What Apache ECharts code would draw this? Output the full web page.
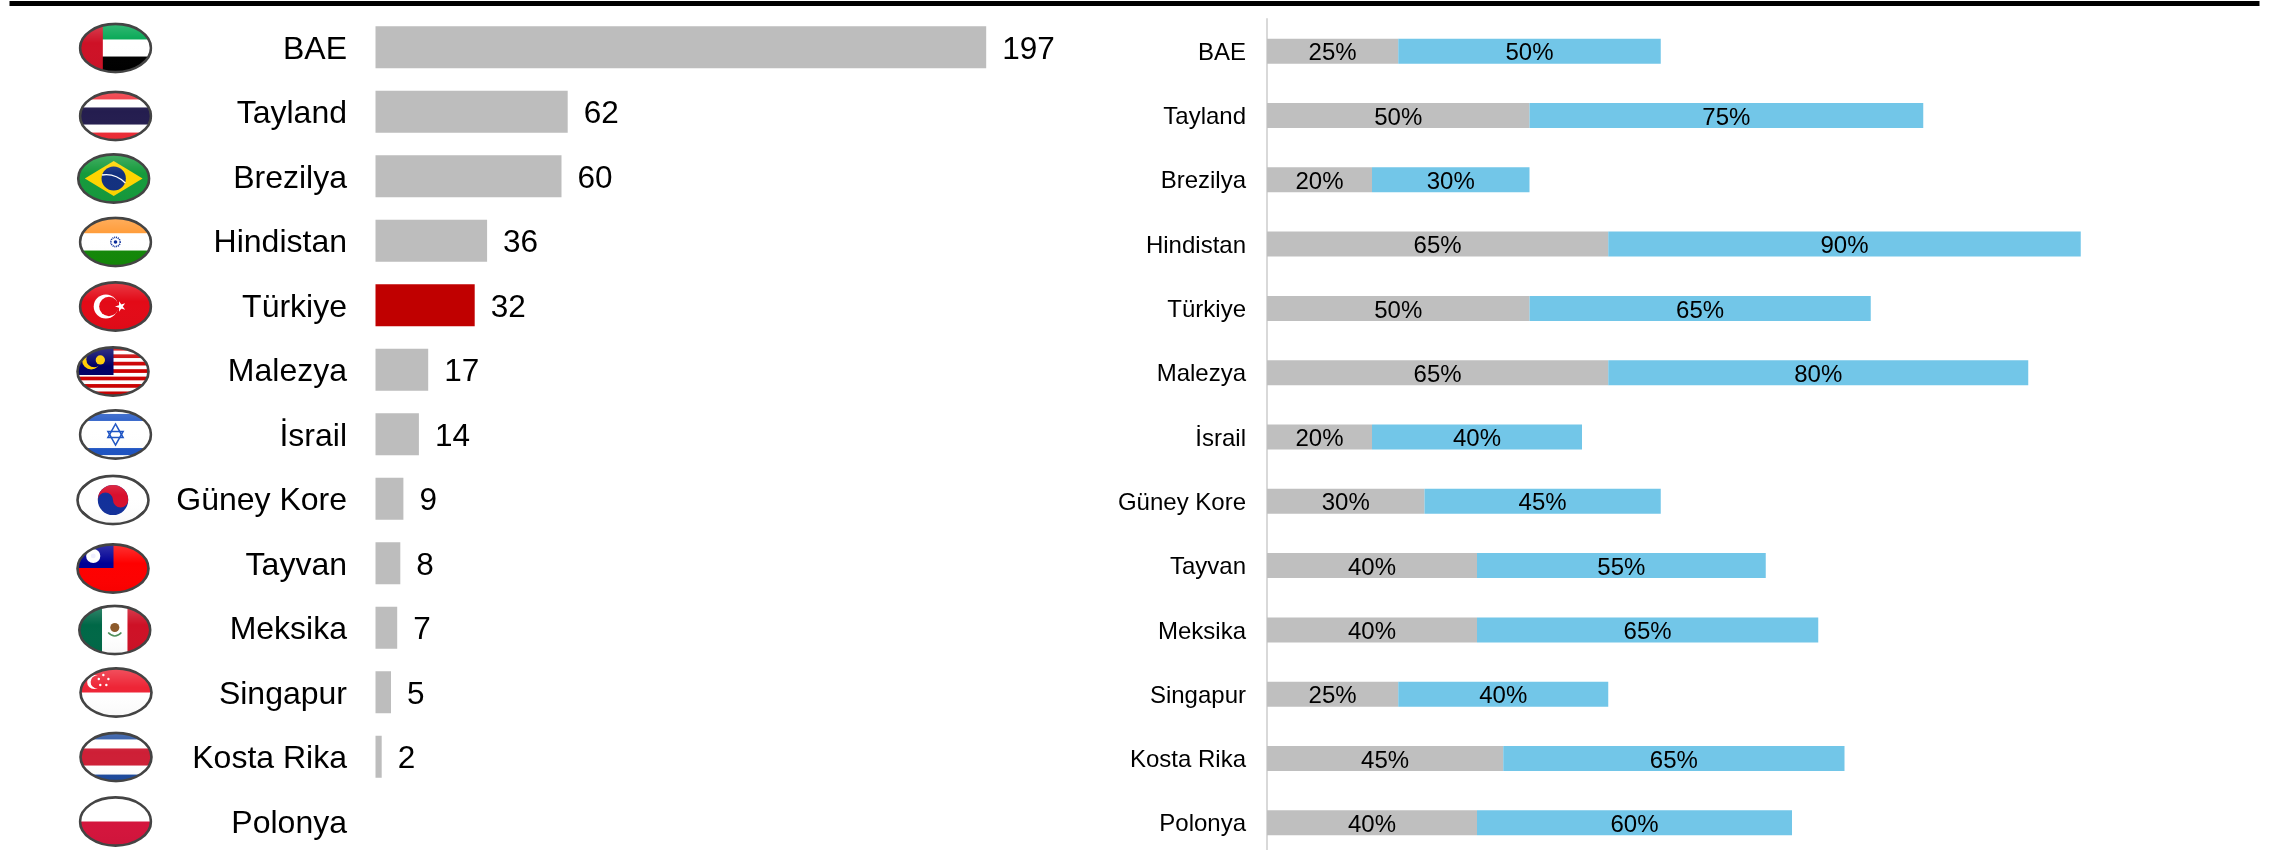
<!DOCTYPE html>
<html><head><meta charset="utf-8">
<style>html,body{margin:0;padding:0;background:#fff}#c{width:2287px;height:850px}</style>
<script src="https://cdn.jsdelivr.net/npm/echarts@6/dist/echarts.min.js"></script>
</head><body><div id="c"></div>
<script>
const countries = ['BAE','Tayland','Brezilya','Hindistan','Türkiye','Malezya','İsrail','Güney Kore','Tayvan','Meksika','Singapur','Kosta Rika','Polonya'];
const totals = [197,62,60,36,32,17,14,9,8,7,5,2,null];
const highlightCountry = 'Türkiye';
const graySeries = [25,50,20,65,50,65,20,30,40,40,25,45,40];
const blueSeries = [50,75,30,90,65,80,40,45,55,65,40,65,60];

const F = 'Liberation Sans, Arial, sans-serif';
function svg(inner){
  const s = '<svg xmlns="http://www.w3.org/2000/svg" width="222" height="156" viewBox="0 0 73 51"><defs>'+
    '<clipPath id="e"><ellipse cx="36.5" cy="25.5" rx="35" ry="24"/></clipPath>'+
    '<linearGradient id="g" x1="0" y1="0" x2="0" y2="1"><stop offset="0" stop-color="#fff" stop-opacity=".22"/><stop offset=".4" stop-color="#fff" stop-opacity="0"/><stop offset="1" stop-color="#000" stop-opacity=".03"/></linearGradient></defs>'+
    '<g clip-path="url(#e)">'+inner+'<rect width="73" height="51" fill="url(#g)"/></g>'+
    '<ellipse cx="36.5" cy="25.5" rx="35" ry="24" fill="none" stroke="#444" stroke-width="2.6"/></svg>';
  return 'data:image/svg+xml;charset=utf-8,'+encodeURIComponent(s);
}
const R=(x,y,w,h,c)=>`<rect x="${x}" y="${y}" width="${w}" height="${h}" fill="${c}"/>`;
const flags = {
 'BAE': svg(R(0,0,73,51,'#fff')+R(0,0,73,17,'#00A651')+R(0,34,73,17,'#000')+R(0,0,24,51,'#CE1126')),
 'Tayland': svg(R(0,0,73,51,'#EE2B36')+R(0,9,73,33,'#fff')+R(0,17,73,17,'#241D4F')),
 'Brezilya': svg(R(0,0,73,51,'#159A3C')+'<polygon points="36.5,8 65,25.5 36.5,43 8,25.5" fill="#FFD400"/><circle cx="36.5" cy="25.5" r="12" fill="#12307F"/><path d="M25 22 Q38 20 48 30" stroke="#fff" stroke-width="1.3" fill="none"/>'),
 'Hindistan': svg(R(0,0,73,17,'#FF9933')+R(0,17,73,17,'#fff')+R(0,34,73,17,'#138808')+'<circle cx="36.5" cy="25.5" r="4.6" fill="none" stroke="#0A2C9A" stroke-width="1.6" stroke-dasharray="1 .8"/><circle cx="36.5" cy="25.5" r="1.8" fill="#0A2C9A"/>'),
 'Türkiye': svg(R(0,0,73,51,'#E30A17')+'<circle cx="27" cy="25.5" r="12" fill="#fff"/><circle cx="30" cy="25.5" r="9.6" fill="#E30A17"/><polygon points="36,25.5 46,22.3 40,30.8 40,20.2 46,28.7" fill="#fff"/>'),
 'Malezya': svg(R(0,0,73,51,'#fff')+[0,2,4,6,8,10,12].map(i=>R(0,i*3.7+1,73,3.7,'#CC0001')).join('')+R(0,0,37,29,'#010066')+'<circle cx="15" cy="14.5" r="9" fill="#FFCC00"/><circle cx="18" cy="13.5" r="7.8" fill="#010066"/><circle cx="24" cy="14" r="4.6" fill="#FFCC00"/>'),
 'İsrail': svg(R(0,0,73,51,'#fff')+R(0,5,73,7,'#1F55C4')+R(0,39,73,7,'#1F55C4')+'<polygon points="36.5,15 44,28.5 29,28.5" fill="none" stroke="#1F55C4" stroke-width="1.5"/><polygon points="36.5,36 44,22.5 29,22.5" fill="none" stroke="#1F55C4" stroke-width="1.5"/>'),
 'Güney Kore': svg(R(0,0,73,51,'#fff')+'<circle cx="36.5" cy="25.5" r="15" fill="#12309A"/><path d="M21.5 25.5a15 15 0 0 1 30 0a7.5 7.5 0 0 1-15 0a7.5 7.5 0 0 0-15 0z" fill="#D8102E"/><g stroke="#333" stroke-width="2.2"><path d="M6 14l7-6M60 8l7 6M6 37l7 6M60 43l7-6"/></g>'),
 'Tayvan': svg(R(0,0,73,51,'#FE0000')+R(0,0,37,25,'#000095')+'<circle cx="17" cy="13" r="7" fill="#fff"/><circle cx="17" cy="13" r="2.4" fill="#eef"/>'),
 'Meksika': svg(R(0,0,24,51,'#006847')+R(24,0,25,51,'#fff')+R(49,0,24,51,'#CE1126')+'<circle cx="36.5" cy="23" r="4.5" fill="#8C5A2B"/><path d="M30 28 Q36.5 35 43 28" stroke="#4E8F5B" stroke-width="1.6" fill="none"/>'),
 'Singapur': svg(R(0,0,73,51,'#fff')+R(0,0,73,25.5,'#EE2536')+'<circle cx="15" cy="15" r="7" fill="#fff"/><circle cx="18" cy="15" r="6.5" fill="#EE2536"/><g fill="#fff"><circle cx="24" cy="8" r="1.2"/><circle cx="29" cy="12" r="1.2"/><circle cx="27" cy="18" r="1.2"/><circle cx="21" cy="18" r="1.2"/><circle cx="19.5" cy="12" r="1.2"/></g>'),
 'Kosta Rika': svg(R(0,0,73,51,'#1E4B9E')+R(0,8,73,35,'#fff')+R(0,17,73,17,'#CE1F36')),
 'Polonya': svg(R(0,0,73,25.5,'#fff')+R(0,25.5,73,25.5,'#D4143C'))
};

const chart = echarts.init(document.getElementById('c'),null,{renderer:'canvas'});
chart.setOption({
  animation:false,
  backgroundColor:'#fff',
  graphic:[{type:'rect',silent:true,z:10,shape:{x:9.5,y:1,width:2250,height:5},style:{fill:'#000'}}],
  grid:[
    {left:375.5,top:15,width:620,height:838.5,containLabel:false,outerBoundsMode:'none'},
    {left:1267,top:19,width:997.5,height:836,containLabel:false,outerBoundsMode:'none'}
  ],
  xAxis:[
    {gridIndex:0,type:'value',min:0,max:200,show:false},
    {gridIndex:1,type:'value',min:0,max:190,show:false}
  ],
  yAxis:[
    {gridIndex:0,type:'category',inverse:true,data:countries,axisLine:{show:false},axisTick:{show:false},
     axisLabel:{margin:28.5,formatter:v=>`{t|${v}}`,rich:{t:{color:'#000',fontFamily:F,fontSize:32,padding:[5,0,0,0]}}}},
    {gridIndex:1,type:'category',inverse:true,data:countries,axisLine:{show:true,lineStyle:{color:'#D9D9D9',width:2}},axisTick:{show:false},
     axisLabel:{margin:21,formatter:v=>`{t|${v}}`,rich:{t:{color:'#000',fontFamily:F,fontSize:24,padding:[4,0,0,0]}}}}
  ],
  series:[
    {type:'bar',xAxisIndex:0,yAxisIndex:0,barWidth:42,
     data:totals.map((v,i)=>({value:v,itemStyle:{color:countries[i]===highlightCountry?'#C00000':'#BDBDBD'}})),
     label:{show:true,position:'right',distance:16,offset:[0,3],color:'#000',fontFamily:F,fontSize:31.5,
       formatter:p=>p.value==null?'':String(p.value)}},
    {type:'bar',name:'gray',stack:'s',xAxisIndex:1,yAxisIndex:1,barWidth:25,data:graySeries,itemStyle:{color:'#BFBFBF'},
     label:{show:true,position:'inside',offset:[0,2.5],color:'#000',fontFamily:F,fontSize:24,formatter:'{c}%'}},
    {type:'bar',name:'blue',stack:'s',xAxisIndex:1,yAxisIndex:1,barWidth:25,data:blueSeries,itemStyle:{color:'#72C6E8'},
     label:{show:true,position:'inside',offset:[0,2.5],color:'#000',fontFamily:F,fontSize:24,formatter:'{c}%'}},
    {type:'custom',xAxisIndex:0,yAxisIndex:0,silent:true,z:5,clip:false,
     encode:{x:0,y:1},
     data:countries.map((c,i)=>[0,i]),
     renderItem:(params,api)=>{
       const i=api.value(1);
       const p=api.coord([0,i]);
       const dx=[0,0,-1.8,0,0,-2.5,0,-2.5,-2.5,-.7,.5,.5,0][i];
       const dy=[.5,4,2,1,1,1.5,0,1,5,2,0,0,0][i];
       return {type:'image',style:{image:flags[countries[i]],x:p[0]-260-37+dx,y:p[1]-25.5+dy,width:74,height:51.5}};
     }}
  ]
});
</script></body></html>
